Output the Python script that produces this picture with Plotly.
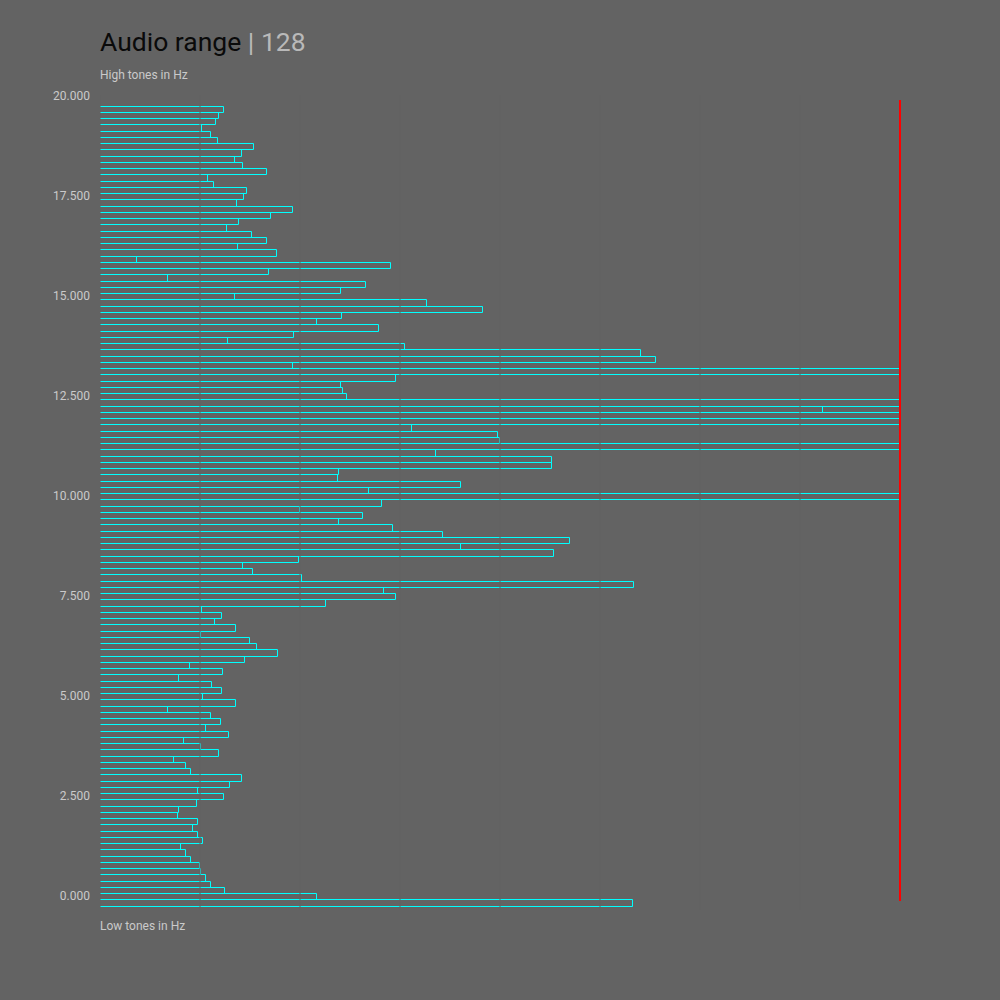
import plotly.graph_objects as go

# ---- data (bins ordered from low to high frequency) ----
BIN_COUNT = 128
BIN_HZ = 20000 / BIN_COUNT          # 156.25 Hz per bin
BIN_OFFSET_HZ = -200                # first bin centre sits just below 0 Hz

levels = [
    170.6, 69.5, 40.1, 35.4, 34.0, 32.3, 32.0, 29.2, 27.6, 26.0,
    33.1, 31.5, 29.9, 31.5, 25.1, 25.4, 31.1, 39.8, 31.5, 41.7,
    45.3, 29.2, 27.6, 23.8, 38.2, 32.4, 27.0, 41.4, 34.0, 38.8,
    35.6, 21.9, 43.6, 33.1, 39.1, 35.9, 25.4, 39.5, 28.9, 46.5,
    57.1, 50.3, 48.1, 32.3, 43.6, 36.9, 39.1, 32.7, 72.4, 94.8,
    91.0, 171.0, 64.7, 49.1, 45.9, 63.8, 145.4, 115.6, 150.5, 109.9,
    93.9, 76.6, 84.3, 64.0, 90.3, 265.0, 86.2, 115.6, 76.3, 76.6,
    144.7, 144.7, 107.4, 272.0, 128.0, 127.2, 99.7, 290.0, 281.0, 231.2,
    268.0, 79.1, 77.6, 77.0, 94.7, 262.0, 61.9, 178.0, 173.0, 97.7,
    40.8, 62.2, 89.2, 69.3, 77.3, 122.7, 104.7, 43.2, 77.0, 85.0,
    21.6, 54.2, 93.2, 11.9, 56.7, 44.3, 53.5, 48.7, 40.7, 44.6,
    54.8, 61.9, 43.9, 46.2, 47.1, 36.6, 34.7, 53.5, 45.9, 43.3,
    45.3, 49.4, 37.9, 35.6, 32.7, 37.2, 38.2, 39.8,
]
freqs = [BIN_OFFSET_HZ + i * BIN_HZ for i in range(len(levels))]

y_tickvals = [0, 2500, 5000, 7500, 10000, 12500, 15000, 17500, 20000]
y_ticktext = ["0.000", "2.500", "5.000", "7.500", "10.000", "12.500", "15.000", "17.500", "20.000"]
x_max = 256
x_grid = [0, 32, 64, 96, 128, 160, 192, 224]

BG = "#636363"
CYAN = "#00ffff"
LABEL = "#cacaca"
FONT = "Roboto"

fig = go.Figure(
    go.Bar(
        x=levels,
        y=freqs,
        orientation="h",
        marker=dict(color="rgba(0,0,0,0)", line=dict(color=CYAN, width=1)),
        hoverinfo="skip",
    )
)

shapes = [
    dict(type="line", xref="x", yref="paper", x0=g, x1=g, y0=0, y1=1,
         line=dict(color=BG, width=1), layer="above")
    for g in x_grid
]
shapes.append(dict(type="line", xref="paper", yref="paper", x0=1, x1=1,
                   y0=0.011, y1=0.994, line=dict(color="#ff0000", width=2), layer="above"))

fig.update_layout(
    width=1000, height=1000,
    paper_bgcolor=BG, plot_bgcolor=BG,
    margin=dict(l=100, r=100, t=95, b=90),
    bargap=0,
    showlegend=False,
    font=dict(family=FONT, color=LABEL, size=12),
    title=dict(
        text="Audio range <span style='color:#b9b9b9'>| 128</span>",
        font=dict(family=FONT, size=26.5, color="#0a0a0a"),
        x=0.1, xanchor="left", xref="container",
        y=0.958, yanchor="middle", yref="container",
    ),
    xaxis=dict(range=[0, x_max], showgrid=False, zeroline=False,
               showticklabels=False, ticks="", showline=False, fixedrange=True),
    yaxis=dict(range=[-362.5, 20012.5], showgrid=False, zeroline=False,
               tickvals=y_tickvals, ticktext=y_ticktext, ticks="",
               showline=False, tickfont=dict(family=FONT, size=12, color=LABEL),
               ticklabelstandoff=9),
    shapes=shapes,
    annotations=[
        dict(text="High tones in Hz", xref="paper", yref="paper", x=0, y=1.0245,
             xanchor="left", yanchor="middle", showarrow=False, xshift=-2,
             font=dict(family=FONT, size=12, color=LABEL)),
        dict(text="Low tones in Hz", xref="paper", yref="paper", x=0, y=-0.0196,
             xanchor="left", yanchor="middle", showarrow=False, xshift=-2,
             font=dict(family=FONT, size=12, color=LABEL)),
    ],
)

fig.write_html("out.html", config={"displayModeBar": False})
